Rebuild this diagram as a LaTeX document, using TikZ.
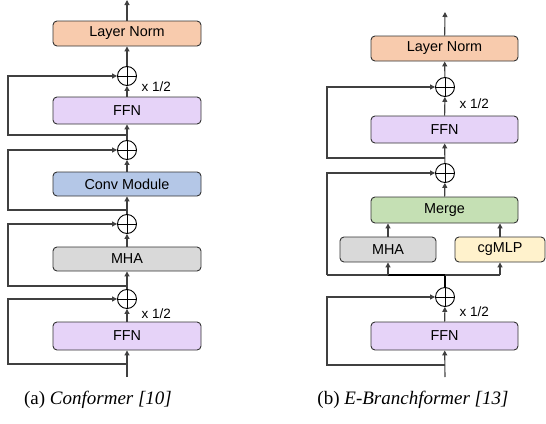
\documentclass[tikz,border=0pt]{standalone}
\usepackage{fontspec}
\setmainfont{Liberation Serif}
\setsansfont{Liberation Sans}
\usetikzlibrary{arrows.meta}
\definecolor{lnc}{HTML}{F8CBAD}
\definecolor{ffnc}{HTML}{E6D3F8}
\definecolor{convc}{HTML}{B4C7E7}
\definecolor{mhac}{HTML}{D9D9D9}
\definecolor{mergec}{HTML}{C5E0B4}
\definecolor{cgc}{HTML}{FFF2CC}
\definecolor{linec}{HTML}{404040}
\tikzset{
  blk/.style={draw=black!80, line width=0.9pt, rounded corners=4pt, minimum width=148pt, inner sep=0pt, font=\sffamily\fontsize{14.4}{16}\selectfont},
  plus/.style={circle, draw=black, line width=0.9pt, minimum size=19pt, inner sep=0pt,
    path picture={\draw[line width=0.9pt] (path picture bounding box.north) -- (path picture bounding box.south) (path picture bounding box.west) -- (path picture bounding box.east);}},
  conn/.style={draw=linec, line width=1.1pt, -{Triangle[width=5pt,length=5pt]}},
  ln/.style={draw=linec, line width=1.1pt},
  half/.style={anchor=west, font=\sffamily\fontsize{13.5}{15}\selectfont},
  captxt/.style={font=\fontsize{19}{21}\selectfont}
}
\begin{document}
\begin{tikzpicture}[x=1pt,y=-1pt]
\useasboundingbox (0,0) rectangle (546,423);
% ---------- Conformer ----------
\coordinate (atop) at (127,0);
\node[blk, fill=lnc, minimum height=25pt] (ln1) at (127,33.5) {Layer Norm};
\node[plus] (p1) at (127,76) {};
\node[blk, fill=ffnc, minimum height=27pt] (ffn1) at (127,110.5) {FFN};
\node[plus] (p2) at (127,150) {};
\node[blk, fill=convc, minimum height=24pt] (conv) at (127,184) {Conv Module};
\node[plus] (p3) at (127,224) {};
\node[blk, fill=mhac, minimum height=24pt] (mha1) at (127,259) {MHA};
\node[plus] (p4) at (127,299) {};
\node[blk, fill=ffnc, minimum height=28pt] (ffn2) at (127,336) {FFN};
\coordinate (abot) at (127,377);
\node[half] (h1) at (138,87) {x 1/2};
\node[half] (h2) at (138,314) {x 1/2};

\draw[conn] (abot) -- (ffn2);
\draw[conn] (ffn2) -- (p4);
\draw[conn] (p4) -- (mha1);
\draw[conn] (mha1) -- (p3);
\draw[conn] (p3) -- (conv);
\draw[conn] (conv) -- (p2);
\draw[conn] (p2) -- (ffn1);
\draw[conn] (ffn1) -- (p1);
\draw[conn] (p1) -- (ln1);
\draw[conn] (ln1) -- (atop);

\coordinate (s1) at (127,135);
\coordinate (s2) at (127,210);
\coordinate (s3) at (127,286);
\coordinate (s4) at (127,364);
\draw[conn] (s1) -- (8,135) -- (8,76) -- (p1);
\draw[conn] (s2) -- (8,210) -- (8,150) -- (p2);
\draw[conn] (s3) -- (8,286) -- (8,224) -- (p3);
\draw[conn] (s4) -- (8,364) -- (8,299) -- (p4);

\node[captxt] (capa) at (98,400) {(a) \textit{Conformer [10]}};

% ---------- E-Branchformer ----------
\coordinate (btop) at (445,12);
\node[blk, fill=lnc, minimum height=25pt, minimum width=147pt] (ln2) at (444.5,48.5) {Layer Norm};
\node[plus] (q1) at (445,87) {};
\node[blk, fill=ffnc, minimum height=27pt, minimum width=147pt] (ffn3) at (444.5,129.5) {FFN};
\node[plus] (q2) at (445,173) {};
\node[blk, fill=mergec, minimum height=26pt, minimum width=147pt] (merge) at (444.5,210) {Merge};
\node[blk, fill=mhac, minimum height=25pt, minimum width=96pt] (mha2) at (388,249.5) {MHA};
\node[blk, fill=cgc, minimum height=25pt, minimum width=90pt] (cg) at (500,249.5) {cgMLP};
\node[plus] (q3) at (445,297) {};
\node[blk, fill=ffnc, minimum height=28pt, minimum width=147pt] (ffn4) at (444.5,336) {FFN};
\coordinate (bbot) at (445,377);
\node[half] (h3) at (456,104) {x 1/2};
\node[half] (h4) at (456,312) {x 1/2};

\coordinate (br) at (445,275);
\coordinate (brl) at (327,275);
\coordinate (bm) at (388,275);
\coordinate (bc) at (500,275);

\draw[conn] (bbot) -- (ffn4);
\draw[conn] (ffn4) -- (q3);
\draw[draw=black, line width=1.8pt] (q3) -- (br);
\draw[ln] (brl) -- (bc);
\draw[draw=black, line width=1.6pt] (bm) -- (br);
\draw[conn] (bm) -- (mha2);
\draw[conn] (bc) -- (cg);
\draw[conn] (mha2.north) -- (mha2.north |- merge.south);
\draw[conn] (cg.north) -- (cg.north |- merge.south);
\draw[conn] (merge) -- (q2);
\draw[conn] (q2) -- (ffn3);
\draw[conn] (ffn3) -- (q1);
\draw[conn] (q1) -- (ln2);
\draw[conn] (ln2) -- (btop);

\coordinate (t1) at (445,158);
\coordinate (t3) at (445,365);
\draw[conn] (t1) -- (327,158) -- (327,87) -- (q1);
\draw[conn] (brl) -- (327,173) -- (q2);
\draw[conn] (t3) -- (327,365) -- (327,297) -- (q3);

\node[captxt] (capb) at (413,400) {(b) \textit{E-Branchformer [13]}};
\end{tikzpicture}
\end{document}
